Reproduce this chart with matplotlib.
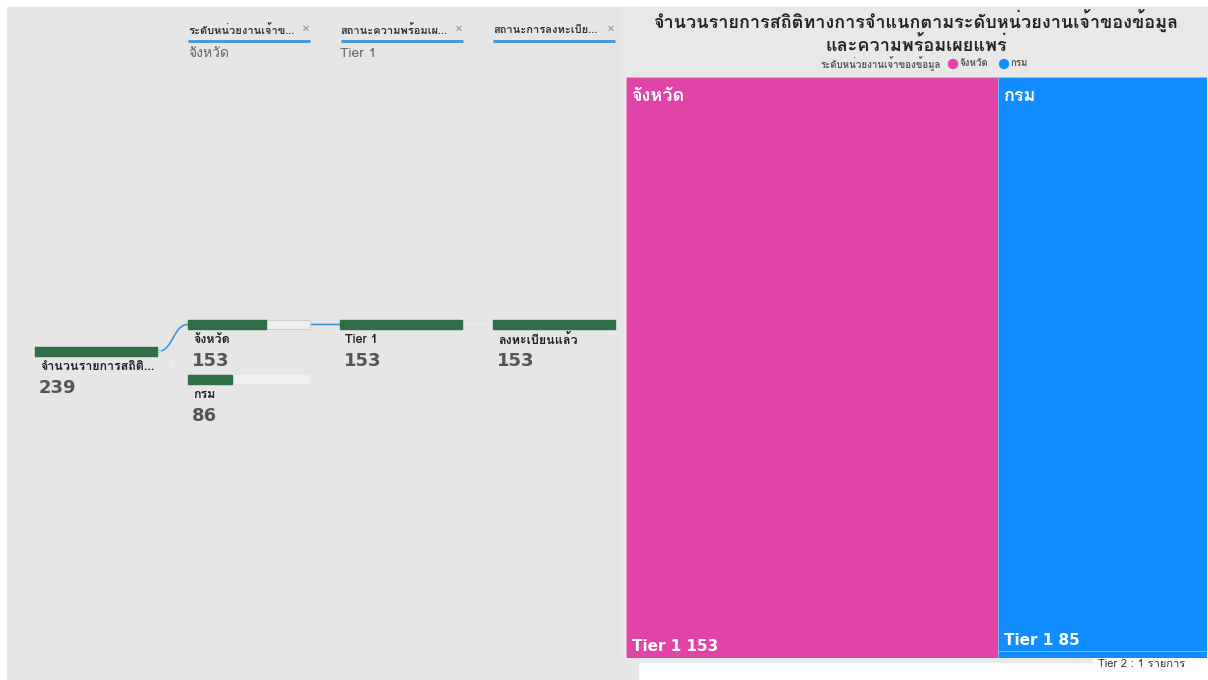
import matplotlib
matplotlib.use('Agg')
import matplotlib.pyplot as plt
from matplotlib import font_manager
from matplotlib.ft2font import FT2Font
from matplotlib.patches import Rectangle, Circle
from matplotlib.path import Path
from matplotlib.patches import PathPatch


def find_thai_font():
    """Look for any installed font that has Thai glyphs."""
    names = []
    for f in font_manager.fontManager.ttflist:
        try:
            cmap = FT2Font(f.fname).get_charmap()
        except Exception:
            continue
        if 0x0E08 in cmap and 0x0E31 in cmap:
            names.append(f.name)
    return names


thai = find_thai_font()
FAMILY = (thai[:1] if thai else []) + ['DejaVu Sans']
plt.rcParams['font.family'] = FAMILY
NUM = ['DejaVu Sans']

# ---- data ----
total_label = 'จำนวนรายการสถิติ...'
total_count = 239
owner_levels = ['จังหวัด', 'กรม']
owner_counts = [153, 86]
tier_levels = ['Tier 1']
tier_counts = [153]
reg_levels = ['ลงทะเบียนแล้ว']
reg_counts = [153]

filter_names = ['ระดับหน่วยงานเจ้าข…', 'สถานะความพร้อมเผ…', 'สถานะการลงทะเบีย…']
filter_values = ['จังหวัด', 'Tier 1', '']

title = 'จำนวนรายการสถิติทางการจำแนกตามระดับหน่วยงานเจ้าของข้อมูล\nและความพร้อมเผยแพร่'
legend_title = 'ระดับหน่วยงานเจ้าของข้อมูล'
tree_groups = ['จังหวัด', 'กรม']
tree_tier1 = [153, 85]
tree_tier2 = [0, 1]
tooltip = 'Tier 2 : 1 รายการ'

BG = '#e6e6e6'
GREEN = '#2e6f45'
PINK = '#e044a7'
BLUE = '#118dff'
VAL = '#555555'

fig = plt.figure(figsize=(12.08, 6.8), dpi=100)
ax = fig.add_axes([0, 0, 1, 1])
ax.set_xlim(0, 1208)
ax.set_ylim(680, 0)
ax.axis('off')

# panels
ax.add_patch(Rectangle((0, 0), 1208, 680, color='white', zorder=0))
ax.add_patch(Rectangle((7, 7), 631, 673, color=BG, zorder=0))
ax.add_patch(Rectangle((620, 7), 588, 655, color='#e8e8e8', zorder=0))

# ---- filter headers ----
for i, (name, val) in enumerate(zip(filter_names, filter_values)):
    x0 = 188 + i * 152.5
    ax.text(x0, 31, name, fontsize=8, fontweight='bold', color='#333333', va='center')
    ax.text(x0 + 118, 30, '×', fontsize=10, color='#999999', va='center', ha='center')
    ax.plot([x0, x0 + 122], [40.5, 40.5], color='#3a96dd', lw=2, solid_capstyle='butt')
    if val:
        ax.text(x0, 54, val, fontsize=10, color='#666666', va='center')

# ---- decomposition tree ----
BAR_LEN = 122
BAR_H = 9


def labels(x, y, label, value):
    ax.text(x + 5, y + 20, label, fontsize=9, fontweight='bold', color='#222222', va='center')
    ax.text(x + 4, y + 41, str(value), fontsize=13, fontweight='bold', color=VAL,
            va='center', family=NUM)


def node(x, y, label, value, base, selected=False, with_bg=True):
    if with_bg:
        ax.add_patch(Rectangle((x, y), BAR_LEN, BAR_H, facecolor='#efefef',
                               edgecolor='#cfcfcf' if selected else 'none', lw=0.8, zorder=2))
    ax.add_patch(Rectangle((x, y), BAR_LEN * value / base, BAR_H, color=GREEN, zorder=3))
    labels(x, y, label, value)


def connector(x0, y0, x1, y1, color, lw):
    xm = (x0 + x1) / 2
    verts = [(x0, y0), (xm, y0), (xm, y1), (x1, y1)]
    p = Path(verts, [Path.MOVETO, Path.CURVE4, Path.CURVE4, Path.CURVE4])
    ax.add_patch(PathPatch(p, fill=False, edgecolor=color, lw=lw, zorder=1))


node(35, 347, total_label, total_count, total_count, with_bg=False)

owner_y = [320, 375]
for i, (lab, v) in enumerate(zip(owner_levels, owner_counts)):
    node(188, owner_y[i], lab, v, total_count, selected=(i == 0))
connector(158, 351.5, 188, 324.5, '#3a96dd', 1.2)
connector(158, 351.5, 188, 379.5, '#eeeeee', 0.8)

for lab, v in zip(tier_levels, tier_counts):
    node(340, 320, lab, v, tier_counts[0], with_bg=False)
connector(310, 324.5, 340, 324.5, '#3a96dd', 1.2)

for lab, v in zip(reg_levels, reg_counts):
    node(493, 320, lab, v, reg_counts[0], with_bg=False)
connector(463, 324.5, 493, 324.5, '#eeeeee', 0.8)

# ---- title & legend ----
ax.text(916, 32, title, fontsize=13, fontweight='bold', color='#252423',
        ha='center', va='center', linespacing=1.25)
ax.text(941, 64, legend_title, fontsize=7, fontweight='bold', color='#555555', ha='right', va='center')
ax.add_patch(Circle((953, 64), 4.5, color=PINK))
ax.text(959, 64, tree_groups[0], fontsize=7, fontweight='bold', color='#555555', va='center')
ax.add_patch(Circle((1004, 64), 4.5, color=BLUE))
ax.text(1010, 64, tree_groups[1], fontsize=7, fontweight='bold', color='#555555', va='center')

# ---- treemap ----
tx0, ty0, tx1, ty1 = 626, 77, 1207, 658
tm = fig.add_axes([tx0 / 1208, 1 - ty1 / 680, (tx1 - tx0) / 1208, (ty1 - ty0) / 680])
tm.set_xlim(0, sum(tree_tier1) + sum(tree_tier2))
tm.set_ylim(1, 0)
tm.axis('off')
colors = [PINK, BLUE]
left = 0
for g, t1, t2, c in zip(tree_groups, tree_tier1, tree_tier2, colors):
    w = t1 + t2
    h1 = t1 / w
    tm.add_patch(Rectangle((left, 0), w, h1, facecolor=c, edgecolor='#f0a0d0' if c == PINK else '#7cc0ff', lw=0.6))
    if t2:
        tm.add_patch(Rectangle((left, h1), w, 1 - h1, facecolor=c, edgecolor='#7cc0ff', lw=0.6))
    tm.text(left + 2.3, 0.033, g, fontsize=13, fontweight='bold', color='white', va='center')
    tm.text(left + 2.3, h1 - 0.019, f'Tier 1 {t1}', fontsize=11, fontweight='bold', color='white',
            va='center', family=NUM)
    left += w

# tooltip
ax.add_patch(Rectangle((1093, 651), 115, 29, color='white', zorder=5))
ax.text(1098, 664, tooltip, fontsize=8, color='#333333', va='center', zorder=6)

fig.savefig('out.png', dpi=100)
